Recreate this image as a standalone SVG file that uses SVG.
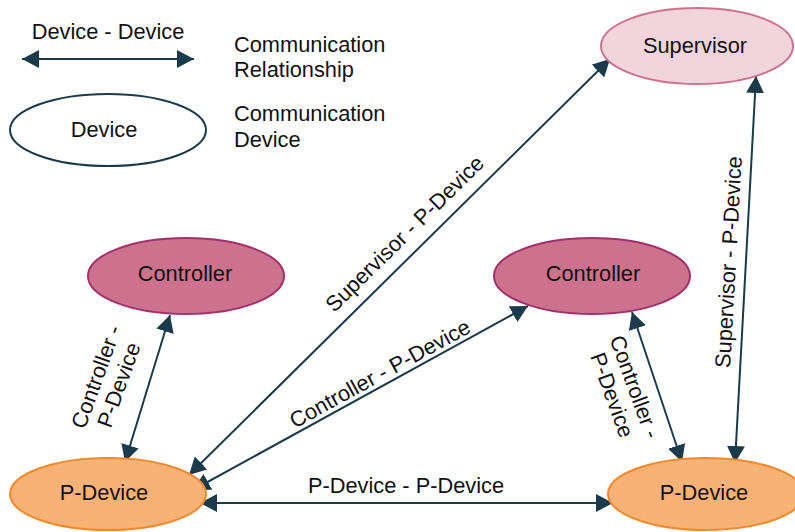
<svg xmlns="http://www.w3.org/2000/svg" width="795" height="532" viewBox="0 0 795 532">
<defs>
<style>
text{font-family:"Liberation Sans",Arial,sans-serif;font-size:21.8px;fill:#111}
.c{text-anchor:middle}
.ln{stroke:#1b3a4b;stroke-width:2;fill:none;marker-start:url(#ah);marker-end:url(#ah)}
.sup{fill:#f2d4dc;stroke:#d0708f;stroke-width:2}
.ctl{fill:#cc728f;stroke:#a3306b;stroke-width:2}
.pd{fill:#f9b275;stroke:#f08a2c;stroke-width:2}
.lg{fill:#fff;stroke:#1b3a4b;stroke-width:2}
</style>
<marker id="ah" markerUnits="userSpaceOnUse" markerWidth="17" markerHeight="18" refX="17" refY="9" orient="auto-start-reverse" viewBox="0 0 17 18">
<path d="M0,0 L17,9 L0,18 z" fill="#1b3a4b"/>
</marker>
</defs>

<g id="legend">
<text class="c" x="108" y="39">Device - Device</text>
<line class="ln" x1="22" y1="59" x2="194" y2="59"/>
<text x="234" y="52">Communication</text>
<text x="234" y="77">Relationship</text>
<ellipse class="lg" cx="108" cy="130" rx="98" ry="36"/>
<text class="c" x="104" y="137">Device</text>
<text x="234" y="121">Communication</text>
<text x="234" y="147">Device</text>
</g>

<g id="connectors">
<line class="ln" x1="170" y1="315" x2="125" y2="462"/>
<line class="ln" x1="610" y1="59" x2="189" y2="475"/>
<line class="ln" x1="528" y1="306" x2="193" y2="490"/>
<line class="ln" x1="200" y1="503" x2="613" y2="503"/>
<line class="ln" x1="632" y1="312" x2="682" y2="462"/>
<line class="ln" x1="756" y1="76" x2="735" y2="463"/>
<text class="c" transform="rotate(-44.5 405 234)" x="405" y="241">Supervisor - P-Device</text>
<text class="c" transform="rotate(-28.7 380 374)" x="380" y="381">Controller - P-Device</text>
<text class="c" x="406" y="493">P-Device - P-Device</text>
<text class="c" transform="rotate(-70 108 381)" x="108" y="376">Controller -</text>
<text class="c" transform="rotate(-70 108 381)" x="108" y="400">P-Device</text>
<text class="c" transform="rotate(70 623 391)" x="623" y="386">Controller -</text>
<text class="c" transform="rotate(70 623 391)" x="623" y="410">P-Device</text>
<text class="c" transform="rotate(-86.8 729 262)" x="729" y="269">Supervisor - P-Device</text>
</g>

<g id="supervisor">
<ellipse class="sup" cx="697" cy="46" rx="96" ry="38"/>
<text class="c" x="695" y="53">Supervisor</text>
</g>
<g id="controller-left">
<ellipse class="ctl" cx="186" cy="276" rx="98" ry="38"/>
<text class="c" x="185" y="281">Controller</text>
</g>
<g id="controller-right">
<ellipse class="ctl" cx="592" cy="276" rx="98" ry="38"/>
<text class="c" x="593" y="281">Controller</text>
</g>
<g id="pdevice-left">
<ellipse class="pd" cx="108" cy="494" rx="98" ry="36"/>
<text class="c" x="104" y="500">P-Device</text>
</g>
<g id="pdevice-right">
<ellipse class="pd" cx="706" cy="494" rx="98" ry="36"/>
<text class="c" x="704" y="500">P-Device</text>
</g>
</svg>
